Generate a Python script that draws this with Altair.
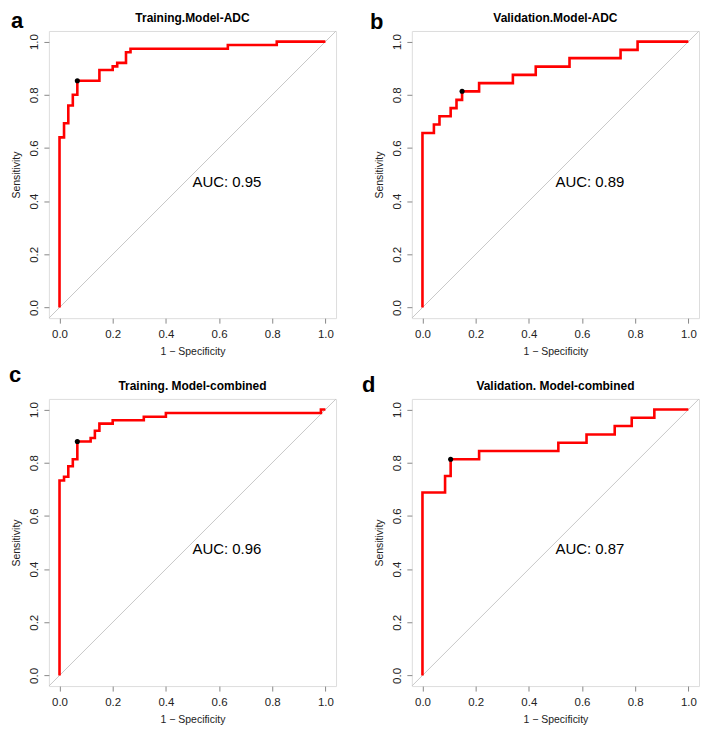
import altair as alt
import pandas as pd

# ---- data ----
panel_letters = ["a", "b", "c", "d"]
panel_titles = ["Training.Model-ADC", "Validation.Model-ADC",
                "Training. Model-combined", "Validation. Model-combined"]
auc_labels = ["AUC: 0.95", "AUC: 0.89", "AUC: 0.96", "AUC: 0.87"]

# ROC vertices (1 - specificity, sensitivity), drawn as step-after lines
fpr_a = [0, 0, 0.017, 0.033, 0.05, 0.067, 0.15, 0.2, 0.217, 0.25, 0.267, 0.633, 0.817, 1.0]
tpr_a = [0, 0.64, 0.693, 0.76, 0.8, 0.853, 0.893, 0.907, 0.92, 0.96, 0.973, 0.987, 1.0, 1.0]
best_a = (0.067, 0.853)

fpr_b = [0, 0, 0.043, 0.064, 0.106, 0.128, 0.149, 0.213, 0.34, 0.426, 0.553, 0.745, 0.809, 1.0]
tpr_b = [0, 0.656, 0.688, 0.719, 0.75, 0.781, 0.813, 0.844, 0.875, 0.906, 0.938, 0.969, 1.0, 1.0]
best_b = (0.149, 0.813)

fpr_c = [0, 0, 0.017, 0.033, 0.05, 0.067, 0.117, 0.133, 0.15, 0.2, 0.317, 0.4, 0.983, 1.0]
tpr_c = [0, 0.733, 0.747, 0.787, 0.813, 0.88, 0.893, 0.92, 0.947, 0.96, 0.973, 0.987, 1.0, 1.0]
best_c = (0.067, 0.88)

fpr_d = [0, 0, 0.085, 0.106, 0.213, 0.511, 0.617, 0.723, 0.787, 0.872, 1.0]
tpr_d = [0, 0.688, 0.75, 0.813, 0.844, 0.875, 0.906, 0.938, 0.969, 1.0, 1.0]
best_d = (0.106, 0.813)

tick_values = [0.0, 0.2, 0.4, 0.6, 0.8, 1.0]
axis_range = [-0.04, 1.04]

# ---- layout/style ----
W = 288
H = 288
FONT = "Liberation Sans"
# (x offset, baseline offset) of the panel letters relative to each plot box
letter_offsets = [(-38, -3), (-42, -2), (-40, -17), (-50, -7)]

xscale = alt.Scale(domain=axis_range, nice=False, zero=False)
yscale = alt.Scale(domain=axis_range, nice=False, zero=False)
xaxis = alt.Axis(values=tick_values, format=".1f", title="1 − Specificity",
                 grid=False, domain=False, tickSize=5, tickColor="#888888",
                 labelPadding=5, titlePadding=7, labelFontSize=11.5,
                 titleFontSize=10.5, titleFontWeight="normal",
                 labelColor="#222222", titleColor="#222222",
                 labelFont=FONT, titleFont=FONT)
yaxis = alt.Axis(values=tick_values, format=".1f", title="Sensitivity",
                 grid=False, domain=False, tickSize=5, tickColor="#888888",
                 labelAngle=270, labelAlign="center", labelBaseline="bottom",
                 labelPadding=4, titlePadding=7, labelFontSize=11.5,
                 titleFontSize=10.5, titleFontWeight="normal",
                 labelColor="#222222", titleColor="#222222",
                 labelFont=FONT, titleFont=FONT)


def panel(i, fpr, tpr, best):
    X = alt.X("x:Q", scale=xscale, axis=xaxis)
    Y = alt.Y("y:Q", scale=yscale, axis=yaxis)
    diag = alt.Chart(pd.DataFrame({"x": axis_range, "y": axis_range})).mark_line(
        color="#c8c8c8", strokeWidth=1, clip=True).encode(x=X, y=Y)
    roc_df = pd.DataFrame({"x": fpr, "y": tpr, "o": list(range(len(fpr)))})
    roc = alt.Chart(roc_df).mark_line(
        color="#ff0000", strokeWidth=2.6, interpolate="step-after").encode(
        x=X, y=Y, order="o:Q")
    dot = alt.Chart(pd.DataFrame({"x": [best[0]], "y": [best[1]]})).mark_circle(
        size=26, color="black", opacity=1).encode(x=X, y=Y)
    auc = alt.Chart(pd.DataFrame({"x": [0.5], "y": [0.5], "t": [auc_labels[i]]})).mark_text(
        align="left", baseline="top", fontSize=15, font=FONT, color="black", dy=0).encode(
        x=X, y=Y, text="t:N")
    title = alt.Chart(pd.DataFrame({"t": [panel_titles[i]]})).mark_text(
        fontSize=12, fontWeight="bold", font=FONT, color="black",
        baseline="middle", align="center").encode(
        x=alt.value(W / 2), y=alt.value(-13), text="t:N")
    lx, ly = letter_offsets[i]
    letter = alt.Chart(pd.DataFrame({"t": [panel_letters[i]]})).mark_text(
        fontSize=22, fontWeight="bold", font=FONT, color="black",
        baseline="alphabetic", align="left").encode(
        x=alt.value(lx), y=alt.value(ly), text="t:N")
    return alt.layer(diag, roc, dot, auc, title, letter).properties(width=W, height=H)


chart = alt.concat(
    panel(0, fpr_a, tpr_a, best_a),
    panel(1, fpr_b, tpr_b, best_b),
    panel(2, fpr_c, tpr_c, best_c),
    panel(3, fpr_d, tpr_d, best_d),
    columns=2, spacing={"row": 81, "column": 76}, bounds="flush",
).properties(padding=0).configure_view(stroke="#808080", strokeWidth=1).configure(font=FONT)

chart.save("out.html", embed_options={"renderer": "svg", "actions": False})
